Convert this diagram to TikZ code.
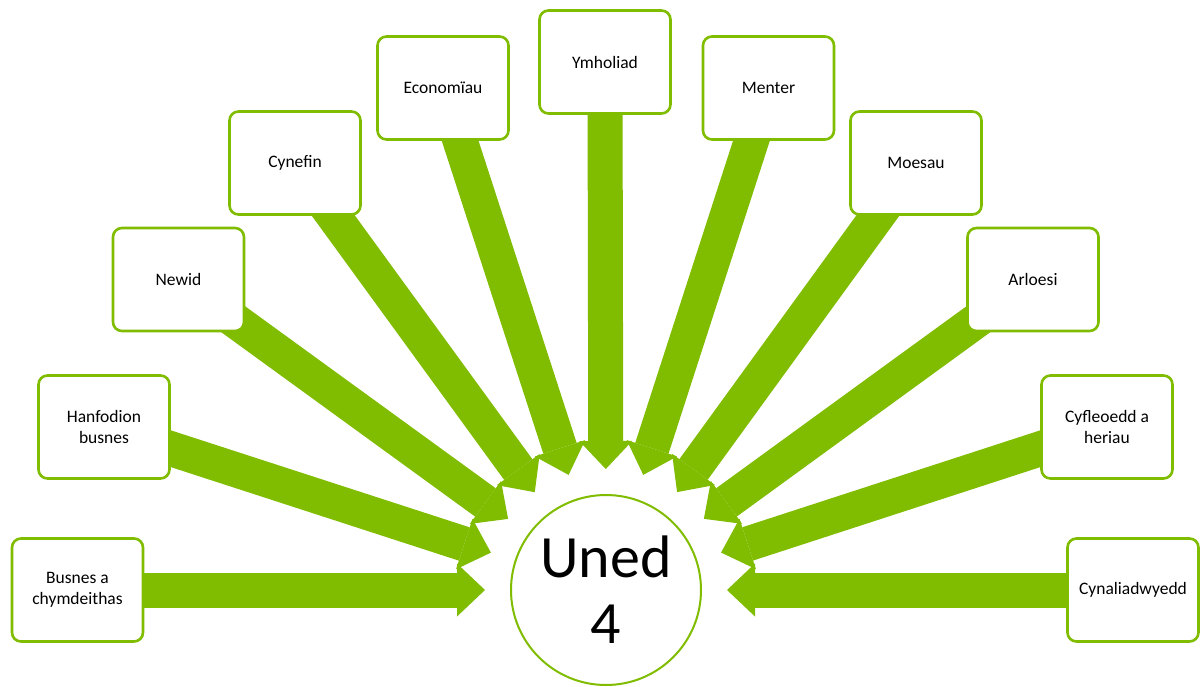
\documentclass[tikz,border=0pt]{standalone}
\usepackage{fontspec}
\setmainfont{Carlito}
\usetikzlibrary{arrows.meta,backgrounds,calc}
\definecolor{lime}{RGB}{128,188,0}
\begin{document}
\begin{tikzpicture}[x=1pt,y=-1pt,
  box/.style={draw=lime,line width=2.6pt,rounded corners=9pt,fill=white,
    minimum width=131pt,minimum height=103pt,align=center,inner sep=0pt,
    font=\fontsize{17.5}{20.5}\selectfont},
  hub/.style={circle,draw=lime,line width=2pt,fill=white,minimum size=190pt,
    align=center,inner sep=0pt,font=\fontsize{60}{66}\selectfont},
  blk/.style={draw=lime,line width=35pt,
    -{Triangle[width=53pt,length=28pt,line width=0pt]}}]
\useasboundingbox (0,0) rectangle (1200,686);
\node[box] (b1)  at (77.5,590)   {Busnes a\\chymdeithas};
\node[box] (b2)  at (104,427)    {Hanfodion\\busnes};
\node[box] (b3)  at (178.5,279.5){Newid};
\node[box] (b4)  at (295,163)    {Cynefin};
\node[box] (b5)  at (443,88)     {Economïau};
\node[box] (b6)  at (605,62)     {Ymholiad};
\node[box] (b7)  at (768.5,88)   {Menter};
\node[box] (b8)  at (916,163)    {Moesau};
\node[box] (b9)  at (1033,279.5) {Arloesi};
\node[box] (b10) at (1107,427)   {Cyfleoedd a\\heriau};
\node[box] (b11) at (1133,590)   {Cynaliadwyedd};
\node[hub] (c) at (606,590) {Uned\\4};
\begin{scope}[on background layer]
\foreach \i in {1,...,11}
  \draw[blk] (b\i.center) -- ($(c.center)!121pt!(b\i.center)$);
\end{scope}
\end{tikzpicture}
\end{document}
